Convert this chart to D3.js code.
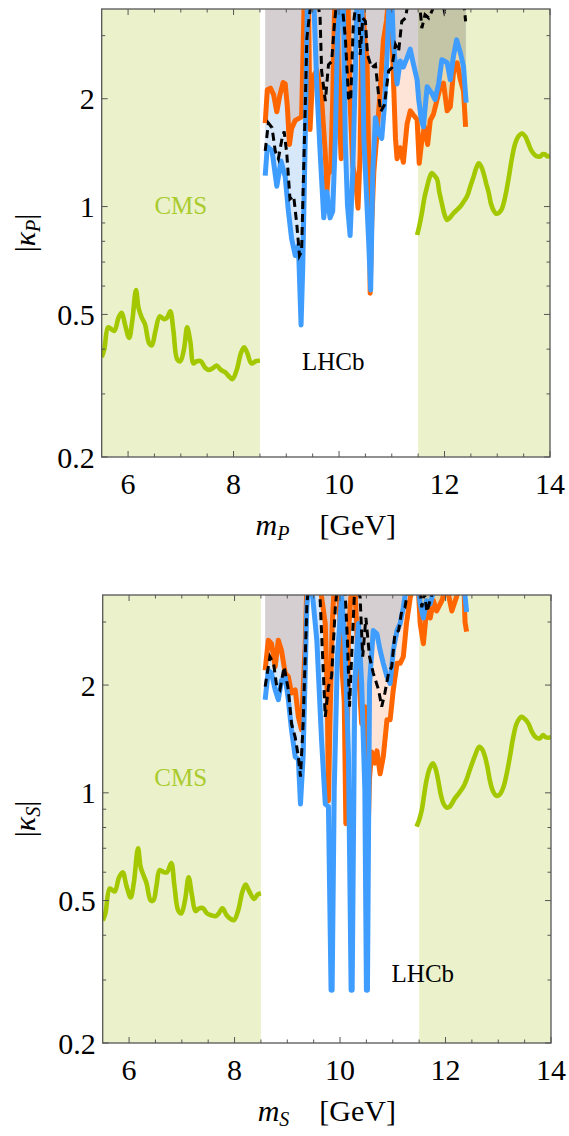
<!DOCTYPE html>
<html>
<head>
<meta charset="utf-8">
<script src="https://cdn.jsdelivr.net/npm/d3@7"></script>
<style>
  body { margin: 0; background: #fff; }
  text { font-family: "Liberation Serif", "Times New Roman", "DejaVu Serif", serif; }
</style>
</head>
<body>
<script>
// ---- axis ticks ----
const xTicks = [6, 8, 10, 12, 14];
const xMinor = [6.5, 7, 7.5, 8.5, 9, 9.5, 10.5, 11, 11.5, 12.5, 13, 13.5];
const yTicks = [0.2, 0.5, 1, 2];
const yTickLabels = ["0.2", "0.5", "1", "2"];
const yMinor = [0.3, 0.4, 0.6, 0.7, 0.8, 0.9, 3];

// excluded mass windows shaded for CMS [GeV]
const cmsBands = [[5.5, 8.5], [11.5, 14]];
const OFF = 3.8; // curve leaves the plot at the top

// ---- pseudoscalar (P) panel: [mass GeV, |kappa|] ----
const greenPLow = [[5.50,0.38],[5.55,0.40],[5.62,0.46],[5.68,0.455],[5.74,0.45],[5.82,0.49],[5.88,0.505],[5.94,0.47],[6.02,0.43],[6.08,0.48],[6.15,0.585],[6.20,0.52],[6.26,0.49],[6.32,0.47],[6.40,0.415],[6.45,0.41],[6.52,0.45],[6.60,0.494],[6.68,0.485],[6.74,0.49],[6.80,0.51],[6.86,0.45],[6.93,0.375],[6.99,0.37],[7.06,0.40],[7.12,0.46],[7.18,0.42],[7.24,0.365],[7.30,0.37],[7.38,0.37],[7.46,0.355],[7.54,0.35],[7.62,0.355],[7.68,0.36],[7.76,0.35],[7.84,0.345],[7.92,0.335],[7.98,0.33],[8.06,0.35],[8.14,0.39],[8.20,0.405],[8.26,0.39],[8.34,0.365],[8.42,0.37],[8.50,0.372]];
const greenPHigh = [[11.48,0.833],[11.52,0.88],[11.57,0.958],[11.62,1.06],[11.67,1.137],[11.72,1.21],[11.76,1.24],[11.81,1.22],[11.86,1.19],[11.90,1.10],[11.95,1.02],[12.00,0.95],[12.05,0.918],[12.10,0.93],[12.17,0.958],[12.24,0.98],[12.30,1.0],[12.36,1.03],[12.43,1.07],[12.49,1.14],[12.55,1.21],[12.60,1.28],[12.65,1.32],[12.70,1.29],[12.74,1.24],[12.79,1.16],[12.84,1.09],[12.88,1.02],[12.93,0.975],[12.98,0.955],[13.03,0.96],[13.08,0.98],[13.12,1.02],[13.17,1.10],[13.22,1.21],[13.28,1.37],[13.34,1.50],[13.40,1.57],[13.47,1.60],[13.53,1.57],[13.59,1.50],[13.65,1.43],[13.72,1.39],[13.77,1.38],[13.82,1.38],[13.86,1.40],[13.90,1.40],[13.95,1.38],[14.0,1.39]];
const orangeP = [[8.60,1.71],[8.64,2.12],[8.70,2.14],[8.76,2.05],[8.82,1.84],[8.88,2.05],[8.94,2.22],[8.98,2.2],[9.02,1.9],[9.06,1.49],[9.10,1.65],[9.17,1.74],[9.23,1.76],[9.29,1.78],[9.34,OFF],[9.42,OFF],[9.45,1.64],[9.50,2.3],[9.58,2.4],[9.67,2.0],[9.74,1.4],[9.77,1.10],[9.80,1.27],[9.84,1.25],[9.88,2.0],[9.92,OFF],[9.97,OFF],[10.0,1.9],[10.04,1.36],[10.08,1.9],[10.12,OFF],[10.17,OFF],[10.21,1.95],[10.26,1.3],[10.31,1.2],[10.36,0.99],[10.40,1.4],[10.44,OFF],[10.50,2.8],[10.53,2.6],[10.57,1.2],[10.59,0.573],[10.62,0.90],[10.66,1.25],[10.72,1.6],[10.78,2.1],[10.84,2.9],[10.90,3.3],[10.94,OFF],[10.98,OFF],[11.03,2.3],[11.07,1.55],[11.10,1.36],[11.16,1.46],[11.22,1.33],[11.29,1.70],[11.35,1.85],[11.41,1.80],[11.48,1.75],[11.52,1.32],[11.57,1.53],[11.62,1.67],[11.68,1.49],[11.73,1.74],[11.79,1.81],[11.86,1.99],[11.92,2.15],[11.98,2.21],[12.05,1.85],[12.11,1.90],[12.17,2.37],[12.24,2.52],[12.30,2.26],[12.36,2.1],[12.40,1.67]];
const blueP = [[8.60,1.22],[8.64,1.47],[8.73,1.43],[8.82,1.14],[8.90,1.34],[8.98,1.21],[9.04,0.97],[9.10,0.815],[9.17,0.73],[9.23,0.78],[9.28,0.467],[9.31,0.66],[9.36,1.55],[9.40,OFF],[9.52,OFF],[9.58,2.14],[9.64,1.43],[9.71,0.93],[9.77,1.10],[9.83,0.93],[9.88,0.97],[9.93,1.55],[9.97,2.95],[10.02,OFF],[10.08,OFF],[10.12,1.49],[10.16,1.01],[10.21,0.83],[10.26,1.25],[10.31,2.39],[10.34,OFF],[10.43,OFF],[10.47,1.55],[10.50,1.25],[10.56,0.81],[10.60,0.585],[10.64,1.25],[10.69,1.77],[10.75,1.60],[10.81,1.55],[10.86,1.90],[10.91,2.6],[10.95,OFF],[11.00,OFF],[11.03,2.9],[11.10,2.2],[11.16,2.55],[11.22,2.45],[11.29,2.6],[11.35,2.75],[11.41,2.5],[11.48,2.26],[11.51,1.99],[11.56,1.75],[11.60,1.67],[11.67,2.16],[11.76,2.07],[11.82,1.99],[11.89,2.21],[11.95,2.57],[12.05,2.52],[12.11,2.26],[12.17,2.63],[12.23,2.92],[12.30,2.69],[12.36,2.46],[12.41,1.95]];
const dashedP = [[8.60,1.43],[8.66,1.71],[8.73,1.66],[8.79,1.43],[8.85,1.36],[8.92,1.55],[8.96,1.62],[9.01,1.40],[9.07,1.05],[9.14,1.07],[9.20,0.89],[9.25,0.73],[9.29,0.75],[9.36,1.92],[9.39,2.95],[9.44,3.43],[9.48,OFF],[9.58,OFF],[9.64,3.4],[9.67,2.39],[9.74,1.97],[9.80,2.49],[9.86,2.54],[9.91,3.2],[9.96,OFF],[10.05,OFF],[10.12,2.95],[10.18,2.01],[10.22,1.97],[10.27,3.2],[10.33,OFF],[10.37,OFF],[10.40,2.65],[10.45,3.36],[10.50,3.29],[10.54,2.65],[10.62,2.44],[10.69,2.49],[10.75,2.05],[10.79,1.84],[10.86,1.92],[10.94,2.39],[11.00,2.44],[11.07,2.83],[11.13,2.71],[11.19,3.29],[11.26,3.36],[11.32,OFF],[11.52,OFF],[11.57,3.15],[11.63,3.43],[11.70,3.36],[11.76,3.51],[11.85,OFF],[11.95,OFF],[12.0,3.5],[12.1,OFF],[12.36,OFF],[12.40,3.29]];

// ---- scalar (S) panel ----
const greenSLow = [[5.50,0.44],[5.55,0.46],[5.63,0.54],[5.68,0.535],[5.73,0.53],[5.81,0.58],[5.88,0.60],[5.95,0.55],[6.03,0.51],[6.09,0.56],[6.17,0.70],[6.22,0.62],[6.28,0.585],[6.33,0.56],[6.41,0.50],[6.46,0.50],[6.52,0.55],[6.58,0.608],[6.66,0.60],[6.72,0.60],[6.80,0.637],[6.86,0.55],[6.93,0.47],[6.99,0.46],[7.06,0.50],[7.13,0.581],[7.19,0.52],[7.26,0.467],[7.32,0.475],[7.40,0.476],[7.48,0.46],[7.56,0.455],[7.64,0.452],[7.70,0.46],[7.77,0.476],[7.85,0.455],[7.92,0.445],[7.99,0.441],[8.07,0.47],[8.15,0.53],[8.21,0.554],[8.28,0.53],[8.37,0.505],[8.44,0.52],[8.50,0.524]];
const greenSHigh = [[11.45,0.804],[11.50,0.84],[11.55,0.895],[11.60,1.0],[11.64,1.085],[11.70,1.17],[11.76,1.21],[11.81,1.17],[11.86,1.085],[11.91,0.99],[11.96,0.934],[12.02,0.91],[12.08,0.915],[12.18,0.966],[12.26,1.0],[12.34,1.04],[12.40,1.09],[12.46,1.158],[12.55,1.26],[12.64,1.345],[12.70,1.32],[12.75,1.26],[12.80,1.17],[12.84,1.085],[12.90,1.01],[12.97,0.98],[13.03,0.99],[13.10,1.04],[13.16,1.13],[13.22,1.26],[13.28,1.42],[13.35,1.563],[13.44,1.63],[13.50,1.61],[13.57,1.563],[13.63,1.49],[13.70,1.435],[13.75,1.42],[13.79,1.42],[13.85,1.45],[13.90,1.43],[13.95,1.425],[14.0,1.43]];
const orangeS = [[8.58,2.20],[8.64,2.67],[8.70,2.61],[8.77,2.25],[8.83,2.67],[8.89,2.50],[8.96,2.16],[9.02,2.11],[9.08,1.90],[9.15,1.94],[9.21,1.63],[9.27,1.50],[9.30,1.94],[9.34,2.6],[9.37,OFF],[9.62,OFF],[9.72,2.97],[9.76,1.8],[9.78,0.95],[9.81,1.6],[9.85,2.9],[9.89,OFF],[9.97,OFF],[10.03,2.3],[10.08,1.8],[10.11,0.82],[10.14,1.5],[10.16,2.8],[10.22,OFF],[10.28,OFF],[10.35,2.2],[10.41,1.56],[10.47,1.74],[10.52,0.66],[10.56,1.1],[10.60,1.30],[10.66,1.21],[10.70,1.31],[10.76,1.13],[10.82,1.26],[10.89,1.60],[10.95,1.60],[11.01,1.94],[11.08,2.30],[11.14,2.30],[11.20,2.40],[11.26,2.97],[11.33,3.5],[11.39,OFF],[11.48,OFF],[11.52,2.97],[11.58,2.61],[11.64,3.22],[11.71,3.08],[11.77,3.44],[11.83,3.22],[11.93,3.44],[12.02,OFF],[12.12,3.22],[12.21,3.53],[12.28,OFF],[12.35,OFF],[12.37,3.0],[12.40,2.82]];
const blueS = [[8.58,1.82],[8.64,2.20],[8.70,2.16],[8.77,1.94],[8.83,1.82],[8.89,2.06],[8.96,2.11],[9.02,1.82],[9.08,1.50],[9.15,1.26],[9.21,1.24],[9.25,0.93],[9.30,1.26],[9.37,3.29],[9.40,OFF],[9.46,OFF],[9.56,2.67],[9.65,1.40],[9.72,0.93],[9.78,0.915],[9.83,0.281],[9.85,0.281],[9.89,1.02],[9.95,2.40],[10.03,3.53],[10.09,2.67],[10.16,1.26],[10.21,0.281],[10.23,0.281],[10.28,2.02],[10.35,2.97],[10.41,2.02],[10.47,1.02],[10.50,0.281],[10.52,0.281],[10.56,2.02],[10.63,2.84],[10.70,2.78],[10.76,2.50],[10.82,2.30],[10.89,2.11],[10.95,2.02],[11.01,2.50],[11.08,2.84],[11.14,2.97],[11.20,3.29],[11.26,OFF],[11.48,OFF],[11.52,3.37],[11.58,3.08],[11.64,3.44],[11.71,3.37],[11.80,OFF],[12.35,OFF],[12.40,3.2]];
const dashedS = [[8.58,1.98],[8.67,2.40],[8.74,2.30],[8.80,1.98],[8.86,1.94],[8.94,2.25],[9.02,1.94],[9.08,1.56],[9.15,1.43],[9.21,1.26],[9.25,1.11],[9.30,1.56],[9.37,3.29],[9.40,OFF],[9.59,OFF],[9.62,3.53],[9.72,1.63],[9.78,1.98],[9.84,2.11],[9.91,3.29],[9.95,OFF],[10.09,OFF],[10.14,2.67],[10.18,1.74],[10.22,2.40],[10.28,OFF],[10.38,3.53],[10.43,2.40],[10.49,3.08],[10.56,2.40],[10.63,2.16],[10.73,1.94],[10.79,1.74],[10.85,1.90],[10.92,2.16],[10.98,2.25],[11.04,2.78],[11.11,2.84],[11.17,3.22],[11.23,3.29],[11.30,OFF],[11.50,OFF],[11.55,3.3],[11.60,3.6],[11.65,3.2],[11.72,3.5],[11.80,OFF],[12.40,OFF]];

const panels = [
  { top: 9, bottom: 457, left: 101.7, right: 550, kMax: 3.56, sub: "P",
    greens: [greenPLow, greenPHigh], orange: orangeP, blue: blueP, dashed: dashedP,
    cms: [7.0, 0.954], lhcb: [9.89, 0.35] },
  { top: 595, bottom: 1043, left: 102.7, right: 551, kMax: 3.57, sub: "S",
    greens: [greenSLow, greenSHigh], orange: orangeS, blue: blueS, dashed: dashedS,
    cms: [6.98, 1.044], lhcb: [11.57, 0.296] }
];

const serif = "'Liberation Serif', 'Times New Roman', 'DejaVu Serif', serif";

const svg = d3.select("body").append("svg")
    .attr("width", 569)
    .attr("height", 1136)
    .attr("font-family", serif);

panels.forEach((p, i) => {
  const x = d3.scaleLinear().domain([5.5, 14]).range([p.left, p.right]);
  const y = d3.scaleLog().domain([0.2, p.kMax]).range([p.bottom, p.top]);

  const clipId = "clip" + i;
  svg.append("clipPath").attr("id", clipId)
    .append("rect")
      .attr("x", p.left).attr("y", p.top)
      .attr("width", p.right - p.left).attr("height", p.bottom - p.top);

  const g = svg.append("g").attr("clip-path", `url(#${clipId})`);

  // CMS excluded windows
  g.selectAll("rect.cms")
    .data(cmsBands)
    .join("rect")
      .attr("class", "cms")
      .attr("x", d => x(d[0]))
      .attr("width", d => x(d[1]) - x(d[0]))
      .attr("y", p.top)
      .attr("height", p.bottom - p.top)
      .attr("fill", "#ebf2cb");

  // LHCb excluded regions: everything above each curve
  const fillArea = d3.area()
      .x(d => x(d[0]))
      .y0(p.top)
      .y1(d => y(Math.min(d[1], p.kMax)));

  g.append("path").datum(p.blue)
      .attr("d", fillArea)
      .attr("fill", "#d6e8fa")
      .style("mix-blend-mode", "multiply");
  g.append("path").datum(p.orange)
      .attr("d", fillArea)
      .attr("fill", "#fee4d6")
      .style("mix-blend-mode", "multiply");

  const line = d3.line().x(d => x(d[0])).y(d => y(d[1]));
  const smooth = d3.line().x(d => x(d[0])).y(d => y(d[1])).curve(d3.curveCatmullRom);

  g.selectAll("path.green")
    .data(p.greens)
    .join("path")
      .attr("class", "green")
      .attr("d", smooth)
      .attr("fill", "none")
      .attr("stroke", "#a4c800")
      .attr("stroke-width", 4.6);

  g.append("path").datum(p.orange)
      .attr("d", line)
      .attr("fill", "none")
      .attr("stroke", "#ff6600")
      .attr("stroke-width", 5)
      .attr("stroke-linejoin", "round");
  g.append("path").datum(p.blue)
      .attr("d", line)
      .attr("fill", "none")
      .attr("stroke", "#3f9dff")
      .attr("stroke-width", 5)
      .attr("stroke-linejoin", "round");
  g.append("path").datum(p.dashed)
      .attr("d", line)
      .attr("fill", "none")
      .attr("stroke", "#000")
      .attr("stroke-width", 3)
      .attr("stroke-dasharray", "8,5");

  // labels inside the plot
  svg.append("text")
      .attr("x", x(p.cms[0])).attr("y", y(p.cms[1]))
      .attr("text-anchor", "middle")
      .attr("font-size", 25)
      .attr("fill", "#aacb2e")
      .text("CMS");
  svg.append("text")
      .attr("x", x(p.lhcb[0])).attr("y", y(p.lhcb[1]))
      .attr("text-anchor", "middle")
      .attr("font-size", 25)
      .attr("fill", "#000")
      .text("LHCb");

  // frame
  svg.append("rect")
      .attr("x", p.left).attr("y", p.top)
      .attr("width", p.right - p.left).attr("height", p.bottom - p.top)
      .attr("fill", "none")
      .attr("stroke", "#555")
      .attr("stroke-width", 1.3);

  // ticks on all four sides, pointing in
  const ticks = svg.append("g").attr("stroke", "#555").attr("stroke-width", 1);
  const xt = xTicks.map(v => [v, 6]).concat(xMinor.map(v => [v, 3.5]));
  xt.forEach(([v, len]) => {
    ticks.append("line").attr("x1", x(v)).attr("x2", x(v)).attr("y1", p.bottom).attr("y2", p.bottom - len);
    ticks.append("line").attr("x1", x(v)).attr("x2", x(v)).attr("y1", p.top).attr("y2", p.top + len);
  });
  const yt = yTicks.map(v => [v, 6]).concat(yMinor.map(v => [v, 3.5]));
  yt.forEach(([v, len]) => {
    ticks.append("line").attr("y1", y(v)).attr("y2", y(v)).attr("x1", p.left).attr("x2", p.left + len);
    ticks.append("line").attr("y1", y(v)).attr("y2", y(v)).attr("x1", p.right).attr("x2", p.right - len);
  });

  // tick labels
  svg.append("g").attr("font-size", 30).attr("text-anchor", "middle")
    .selectAll("text").data(xTicks).join("text")
      .attr("x", d => x(d)).attr("y", p.bottom + 37)
      .text(d => d);
  svg.append("g").attr("font-size", 30).attr("text-anchor", "end")
    .selectAll("text").data(yTicks).join("text")
      .attr("x", p.left - 7).attr("y", d => y(d))
      .attr("dy", "0.35em")
      .text((d, j) => yTickLabels[j]);

  // x axis title
  const xt2 = svg.append("text")
      .attr("x", (p.left + p.right) / 2)
      .attr("y", p.bottom + 78)
      .attr("text-anchor", "middle")
      .attr("font-size", 30);
  xt2.append("tspan").attr("font-style", "italic").text("m");
  xt2.append("tspan").attr("font-style", "italic").attr("font-size", 20).attr("dy", 5).text(p.sub);
  xt2.append("tspan").attr("dy", -5).attr("dx", 30).text("[GeV]");

  // y axis title
  const cy = (p.top + p.bottom) / 2;
  const yt2 = svg.append("text")
      .attr("transform", `translate(35,${cy}) rotate(-90)`)
      .attr("text-anchor", "middle")
      .attr("font-size", 30);
  yt2.append("tspan").text("|");
  yt2.append("tspan").attr("font-style", "italic").text("κ");
  yt2.append("tspan").attr("font-style", "italic").attr("font-size", 20).attr("dy", 5).text(p.sub);
  yt2.append("tspan").attr("dy", -5).text("|");
});
</script>
</body>
</html>
